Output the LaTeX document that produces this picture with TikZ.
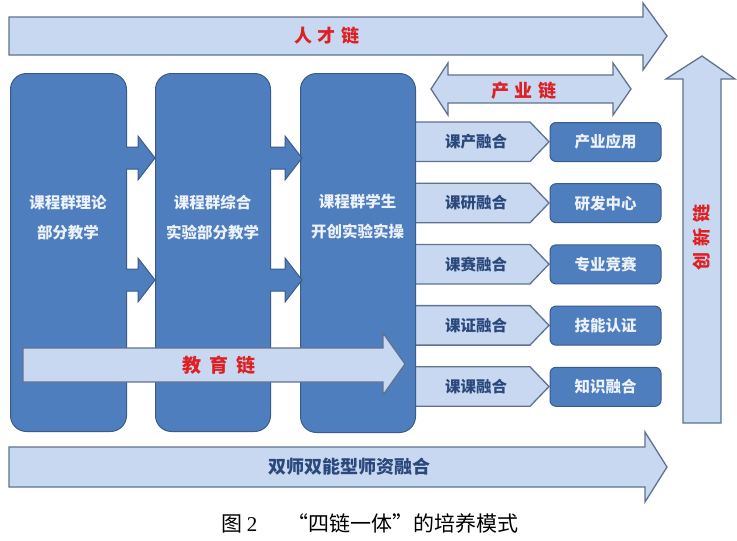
\documentclass[tikz,border=0pt]{standalone}
\usepackage{fontspec}
\newfontfamily\cjk{Noto Sans CJK SC}
\newfontfamily\serifnum{Liberation Serif}
\definecolor{lightfill}{RGB}{199,216,240}
\definecolor{edge}{RGB}{96,114,142}
\definecolor{boxfill}{RGB}{78,126,189}
\definecolor{boxedge}{RGB}{58,92,140}
\definecolor{chainred}{RGB}{222,32,36}
\definecolor{darktext}{RGB}{42,72,124}
\definecolor{boxtextc}{RGB}{236,241,250}
\begin{document}
\begin{tikzpicture}[x=1pt,y=-1pt,
  light/.style={fill=lightfill,draw=edge,line width=1.3pt,line join=miter},
  bigbox/.style={fill=boxfill,draw=boxedge,line width=1pt,rounded corners=16pt,minimum width=116pt,minimum height=358pt,anchor=north west,inner sep=0pt},
  darkarrow/.style={fill=boxfill,draw=boxedge,line width=1pt,line join=miter},
  boxtext/.style={font=\cjk\bfseries\fontsize{15.5}{30}\selectfont,text=boxtextc,align=center,inner sep=0pt},
  redtext/.style={font=\cjk\bfseries\fontsize{18}{18}\selectfont,text=chainred,inner sep=0pt},
  fuse/.style={font=\cjk\bfseries\fontsize{15.5}{16}\selectfont,text=darktext,inner sep=0pt},
  smallbox/.style={fill=boxfill,draw=boxedge,line width=1pt,rounded corners=6pt,minimum width=111pt,minimum height=39pt,inner sep=0pt,font=\cjk\bfseries\fontsize{15.5}{16}\selectfont,text=boxtextc},
  captext/.style={font=\cjk\fontsize{21}{22}\selectfont,text=black,inner sep=0pt}
]
\path[use as bounding box,fill=white] (0,0) rectangle (737,541);

% talent chain
\path[light] (9,17) -- (643,17) -- (643,3) -- (667,36) -- (643,70) -- (643,55) -- (9,55) -- cycle;
\node[redtext] (rencai) at (327,36) {人\hspace{6pt}才\hspace{6pt}链};

% industry chain (double arrow)
\path[light] (431,89) -- (448,63) -- (448,75) -- (613,75) -- (613,63) -- (631,89) -- (613,115) -- (613,103) -- (448,103) -- (448,115) -- cycle;
\node[redtext] (chanye) at (524,91) {产\hspace{6pt}业\hspace{6pt}链};

% innovation chain (up arrow)
\path[light] (683,423) -- (683,79) -- (666,79) -- (702,56) -- (735,79) -- (721,79) -- (721,423) -- cycle;
\node[redtext,rotate=90] (chuangxin) at (702,237) {创\hspace{6pt}新\hspace{6pt}链};

% big boxes 1 and 2
\node[bigbox] (b1) at (10,73) {};
\node[bigbox,minimum width=115pt] (b2) at (155,73) {};

% fusion pentagons (behind box 3)
\foreach \i/\t in {0/课产融合,1/课研融合,2/课赛融合,3/课证融合,4/课课融合}{
  \pgfmathsetmacro\yt{122+61.2*\i}
  \pgfmathsetmacro\yb{\yt+39.5}
  \pgfmathsetmacro\ym{\yt+19.75}
  \path[light] (405,\yt) -- (530,\yt) -- (549,\ym) -- (530,\yb) -- (405,\yb) -- cycle;
  \node[fuse] (f\i) at (476,\ym) {\t};
}

% box 3
\node[bigbox,minimum width=115pt,minimum height=359pt] (b3) at (300,73) {};

% box texts
\node[boxtext] (t1) at (68,218) {课程群理论\\部分教学};
\node[boxtext] (t2) at (212.5,218) {课程群综合\\实验部分教学};
\node[boxtext] (t3) at (357.5,217) {课程群学生\\开创实验实操};

% small arrows between boxes
\foreach \xa/\xb/\xc/\yc in {126/138/155/158, 126/138/155/280, 270/285/302/158, 270/285/302/280}{
  \path[darkarrow] (\xa,\yc-11) -- (\xb,\yc-11) -- (\xb,\yc-22) -- (\xc,\yc) -- (\xb,\yc+22) -- (\xb,\yc+11) -- (\xa,\yc+11);
}

% education chain
\path[light] (23,348) -- (383,348) -- (383,333) -- (405,364) -- (383,395) -- (383,382) -- (23,382) -- cycle;
\node[redtext,font=\cjk\bfseries\fontsize{19}{19}\selectfont] (jiaoyu) at (219,365) {教\hspace{8pt}育\hspace{8pt}链};

% application boxes
\node[smallbox] (s0) at (605.5,142) {产业应用};
\node[smallbox] (s1) at (605.5,203.2) {研发中心};
\node[smallbox] (s2) at (605.5,264.4) {专业竞赛};
\node[smallbox] (s3) at (605.5,325.6) {技能认证};
\node[smallbox] (s4) at (605.5,386.8) {知识融合};

% teacher chain
\path[light] (9,447) -- (645,447) -- (645,432) -- (667,467) -- (645,502) -- (645,487) -- (9,487) -- cycle;
\node[fuse,font=\cjk\bfseries\fontsize{18}{18}\selectfont] (shizi) at (349,467) {双师双能型师资融合};

% caption
\node[captext] (cap) at (370,523) {图\hspace{4pt}{\serifnum 2}\hspace{30pt}“四链一体”的培养模式};
\end{tikzpicture}
\end{document}
